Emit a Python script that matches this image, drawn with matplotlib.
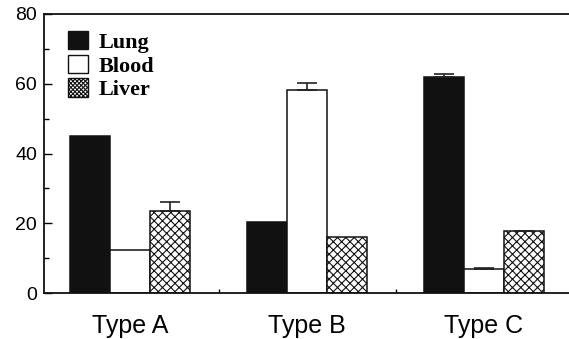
import numpy as np
import matplotlib
matplotlib.use("Agg")
import matplotlib.pyplot as plt
from matplotlib.patches import Patch

# Data
groups = ["Type A", "Type B", "Type C"]
series = ["Lung", "Blood", "Liver"]
lung = [45.0, 20.4, 62.0]
blood = [12.3, 58.2, 6.9]
liver = [23.4, 16.0, 17.7]
lung_err = [0.0, 0.0, 0.8]
blood_err = [0.0, 2.1, 0.4]
liver_err = [2.6, 0.0, 0.2]

y_ticks = [0, 20, 40, 60, 80]

# Styles
BAR_W = 0.226
FACES = ["#111111", "white", "white"]
HATCHES = [None, None, "xxxx"]

plt.rcParams["hatch.linewidth"] = 0.8

fig = plt.figure(figsize=(5.69, 3.39), dpi=100)
ax = fig.add_axes([44 / 569, 46 / 339, 1 - 44 / 569, 279 / 339])

x = np.arange(len(groups))
values = [lung, blood, liver]
errors = [lung_err, blood_err, liver_err]
for i, (vals, errs) in enumerate(zip(values, errors)):
    pos = x + (i - 1) * BAR_W
    ax.bar(pos, vals, width=BAR_W, color=FACES[i], edgecolor="#111111",
           linewidth=1.1, hatch=HATCHES[i], zorder=2)
    errs = np.array(errs)
    mask = errs > 0
    if mask.any():
        ax.errorbar(pos[mask], np.array(vals)[mask], yerr=[np.zeros(mask.sum()), errs[mask]],
                    fmt="none", ecolor="#222222", elinewidth=1.2, capsize=7.5,
                    capthick=1.2, zorder=3)

ax.set_xlim(-0.486, 2.48)
ax.set_ylim(0, 80)
ax.set_yticks(y_ticks)
ax.set_yticks([10, 30, 50, 70], minor=True)
ax.set_xticks(x)
ax.set_xticklabels(groups, fontsize=18, family="Liberation Sans")
ax.set_xticks([0.5, 1.5], minor=True)
ax.tick_params(axis="x", which="major", length=0, pad=15)
ax.tick_params(axis="x", which="minor", direction="in", length=3, width=1)
ax.tick_params(axis="y", which="major", direction="in", length=6, width=1, pad=5)
ax.tick_params(axis="y", which="minor", direction="in", length=3.5, width=1)
for lab in ax.get_yticklabels():
    lab.set_fontsize(14)
    lab.set_family("Liberation Sans")

for side in ["left", "bottom", "top"]:
    ax.spines[side].set_linewidth(1.3)
    ax.spines[side].set_color("#111111")
ax.spines["right"].set_visible(False)

handles = [Patch(facecolor=FACES[0], edgecolor="#111111", linewidth=1.0),
           Patch(facecolor="white", edgecolor="#111111", linewidth=1.0),
           Patch(facecolor="white", edgecolor="#111111", linewidth=1.0, hatch="xxxxxxxx")]
ax.legend(handles, series, loc="upper left", bbox_to_anchor=(0.038, 0.955),
          frameon=False, prop={"family": "Liberation Serif", "weight": "bold", "size": 16},
          handlelength=0.9, handleheight=0.9, handletextpad=0.45, labelspacing=0.08,
          borderpad=0.2, borderaxespad=0)

fig.savefig("out.png", dpi=100)
